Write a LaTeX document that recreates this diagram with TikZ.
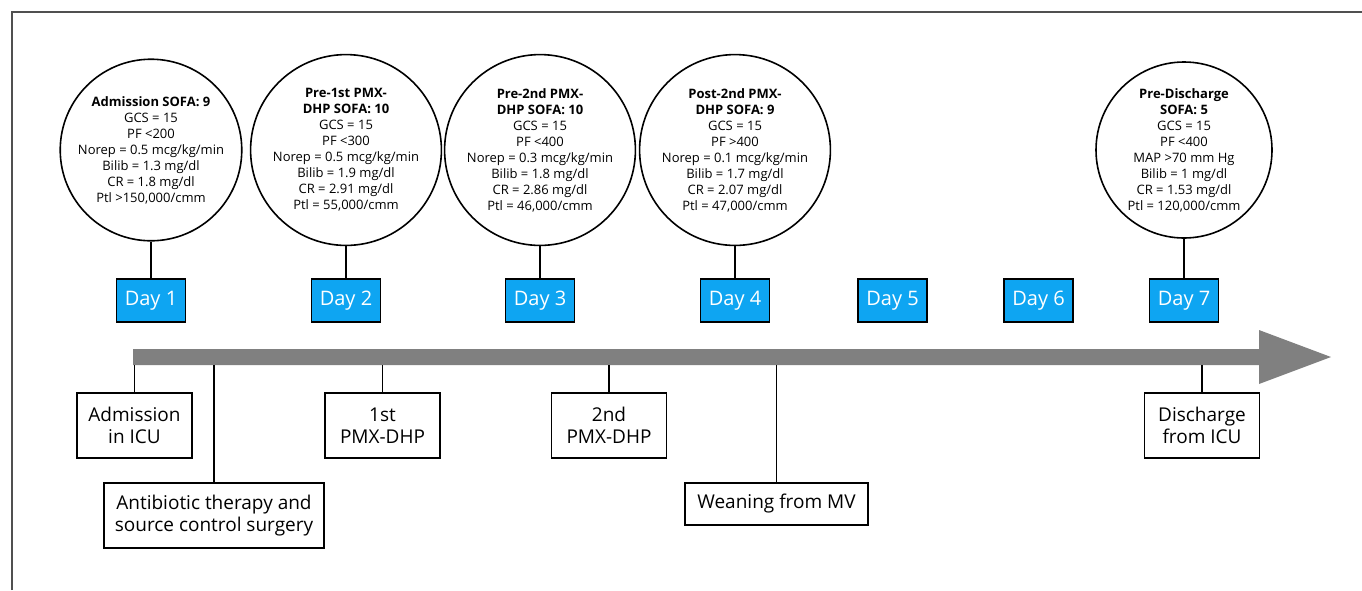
\documentclass[tikz,border=0pt]{standalone}
\usepackage{fontspec}
\setmainfont{Open Sans}
\definecolor{dayblue}{RGB}{14,165,242}
\definecolor{bargray}{RGB}{128,128,128}
\definecolor{framegray}{RGB}{80,80,80}
\begin{document}
\begin{tikzpicture}[x=1pt,y=-1pt,
 info/.style={circle,draw=black,line width=1.6pt,minimum size=176pt,inner sep=0pt,align=center,font=\fontsize{13}{16}\selectfont},
 daybox/.style={draw=black,line width=1.8pt,fill=dayblue,text=white,minimum width=69pt,minimum height=43pt,inner sep=0pt,font=\fontsize{20}{22}\selectfont},
 evbox/.style={draw=black,line width=1.6pt,fill=white,minimum width=115pt,minimum height=65pt,inner sep=0pt,align=center,font=\fontsize{19}{22}\selectfont},
 link/.style={draw=black,line width=1.5pt}]
\useasboundingbox (0,0) rectangle (1362,590);
\fill[white] (0,0) rectangle (1362,590);
% frame
\draw[framegray,line width=1.5pt] (12,590) -- (12,12) -- (1362,12);
% timeline arrow
\fill[bargray] (133,349) -- (1259,349) -- (1259,330) -- (1331,357) -- (1259,384) -- (1259,365) -- (133,365) -- cycle;
% circles
\node[info] (c1) at (151,150) {\textbf{Admission SOFA: 9}\\GCS = 15\\PF <200\\Norep = 0.5 mcg/kg/min\\Bilib = 1.3 mg/dl\\CR = 1.8 mg/dl\\Ptl >150,000/cmm};
\node[info] (c2) at (346,150) {\textbf{Pre-1st PMX-}\\\textbf{DHP SOFA: 10}\\GCS = 15\\PF <300\\Norep = 0.5 mcg/kg/min\\Bilib = 1.9 mg/dl\\CR = 2.91 mg/dl\\Ptl = 55,000/cmm};
\node[info] (c3) at (540,150) {\textbf{Pre-2nd PMX-}\\\textbf{DHP SOFA: 10}\\GCS = 15\\PF <400\\Norep = 0.3 mcg/kg/min\\Bilib = 1.8 mg/dl\\CR = 2.86 mg/dl\\Ptl = 46,000/cmm};
\node[info] (c4) at (735,150) {\textbf{Post-2nd PMX-}\\\textbf{DHP SOFA: 9}\\GCS = 15\\PF >400\\Norep = 0.1 mcg/kg/min\\Bilib = 1.7 mg/dl\\CR = 2.07 mg/dl\\Ptl = 47,000/cmm};
\node[info] (c7) at (1184,150) {\textbf{Pre-Discharge}\\\textbf{SOFA: 5}\\GCS = 15\\PF <400\\MAP >70 mm Hg\\Bilib = 1 mg/dl\\CR = 1.53 mg/dl\\Ptl = 120,000/cmm};
% day boxes
\node[daybox] (d1) at (151,300.5) {Day 1};
\node[daybox] (d2) at (346,300.5) {Day 2};
\node[daybox] (d3) at (540,300.5) {Day 3};
\node[daybox] (d4) at (735,300.5) {Day 4};
\node[daybox] (d5) at (892.5,300.5) {Day 5};
\node[daybox] (d6) at (1038.5,300.5) {Day 6};
\node[daybox] (d7) at (1184,300.5) {Day 7};
\draw[link] (c1.south) -- (d1.north);
\draw[link] (c2.south) -- (d2.north);
\draw[link] (c3.south) -- (d3.north);
\draw[link] (c4.south) -- (d4.north);
\draw[link] (c7.south) -- (d7.north);
% events
\node[evbox] (adm) at (134.5,425.5) {Admission\\in ICU};
\node[evbox,minimum width=220pt] (abx) at (214,515.5) {Antibiotic therapy and\\source control surgery};
\node[evbox] (p1) at (382.5,425.5) {1st\\PMX-DHP};
\node[evbox] (p2) at (609,425.5) {2nd\\PMX-DHP};
\node[evbox,minimum width=183pt,minimum height=42pt] (wean) at (776.5,504) {Weaning from MV};
\node[evbox] (dis) at (1202,425.5) {Discharge\\from ICU};
\coordinate (ta) at (134.5,365);
\coordinate (tb) at (214,365);
\coordinate (tc) at (382.5,365);
\coordinate (td) at (609,365);
\coordinate (te) at (776.5,365);
\coordinate (tf) at (1202,365);
\draw[link] (ta) -- (adm.north);
\draw[link] (tb) -- (abx.north);
\draw[link] (tc) -- (p1.north);
\draw[link] (td) -- (p2.north);
\draw[link] (te) -- (wean.north);
\draw[link] (tf) -- (dis.north);
\end{tikzpicture}
\end{document}
